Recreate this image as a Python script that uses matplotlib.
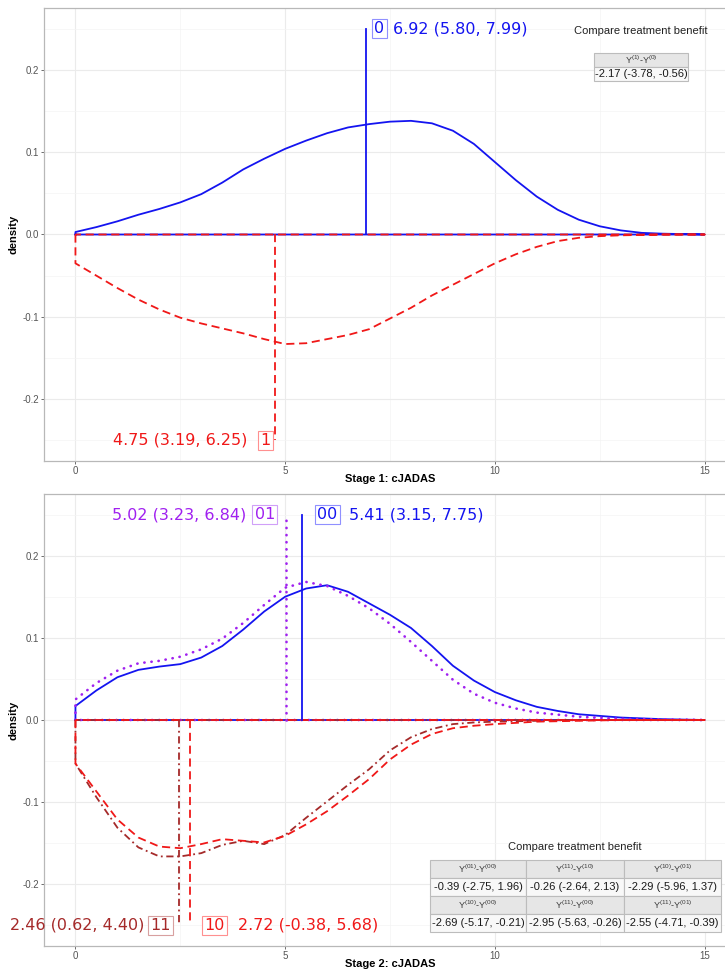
import matplotlib
matplotlib.use("Agg")
import matplotlib.pyplot as plt
import matplotlib.transforms as mtransforms
from matplotlib.patches import Rectangle
from matplotlib.ticker import MultipleLocator

plt.rcParams['font.family'] = ['Liberation Sans', 'DejaVu Sans']
plt.rcParams['mathtext.fontset'] = 'custom'
plt.rcParams['mathtext.rm'] = 'Liberation Sans'
plt.rcParams['mathtext.it'] = 'Liberation Sans'

# ---------------- data ----------------
# Stage 1
s1_x0 = [0, 0.5, 1, 1.5, 2, 2.5, 3, 3.5, 4, 4.5, 5, 5.5, 6, 6.5, 7, 7.5, 8, 8.5, 9, 9.5,
         10, 10.5, 11, 11.5, 12, 12.5, 13, 13.5, 14, 15]
s1_y0 = [0.003, 0.009, 0.016, 0.024, 0.031, 0.039, 0.049, 0.063, 0.079, 0.092, 0.104, 0.114,
         0.123, 0.130, 0.134, 0.137, 0.138, 0.135, 0.126, 0.110, 0.088, 0.066, 0.046, 0.030,
         0.018, 0.010, 0.005, 0.002, 0.001, 0.0]
s1_x1 = [0, 0.5, 1, 1.5, 2, 2.5, 3, 3.5, 4, 4.5, 5, 5.5, 6, 6.5, 7, 7.5, 8, 8.5, 9, 9.5,
         10, 10.5, 11, 11.5, 12, 12.5, 13, 14, 15]
s1_y1 = [-0.035, -0.050, -0.065, -0.079, -0.091, -0.101, -0.108, -0.114, -0.120, -0.127,
         -0.133, -0.132, -0.127, -0.122, -0.115, -0.102, -0.089, -0.074, -0.061, -0.048,
         -0.035, -0.024, -0.015, -0.008, -0.004, -0.002, -0.001, 0.0, 0.0]
s1_med = {"0": 6.92, "1": 4.75}
s1_lab = {"0": "6.92 (5.80, 7.99)", "1": "4.75 (3.19, 6.25)"}

# Stage 2
s2_x00 = [0, 0.5, 1, 1.5, 2, 2.5, 3, 3.5, 4, 4.5, 5, 5.5, 6, 6.5, 7, 7.5, 8, 8.5, 9, 9.5,
          10, 10.5, 11, 11.5, 12, 13, 14, 15]
s2_y00 = [0.017, 0.036, 0.052, 0.061, 0.065, 0.068, 0.076, 0.090, 0.110, 0.132, 0.150, 0.160,
          0.164, 0.156, 0.142, 0.128, 0.112, 0.090, 0.066, 0.048, 0.034, 0.024, 0.016, 0.011,
          0.007, 0.003, 0.001, 0.0]
s2_x01 = [0, 0.5, 1, 1.5, 2, 2.5, 3, 3.5, 4, 4.5, 5, 5.5, 6, 6.5, 7, 7.5, 8, 8.5, 9, 9.5,
          10, 10.5, 11, 12, 13, 14, 15]
s2_y01 = [0.025, 0.045, 0.060, 0.069, 0.072, 0.077, 0.086, 0.099, 0.118, 0.140, 0.161, 0.168,
          0.163, 0.151, 0.136, 0.117, 0.095, 0.072, 0.049, 0.032, 0.021, 0.014, 0.009, 0.004,
          0.0015, 0.0005, 0.0]
s2_x10 = [0, 0.5, 1, 1.5, 2, 2.5, 3, 3.5, 4, 4.5, 5, 5.5, 6, 6.5, 7, 7.5, 8, 8.5, 9, 9.5,
          10, 11, 12, 13, 15]
s2_y10 = [-0.053, -0.087, -0.121, -0.143, -0.154, -0.156, -0.151, -0.145, -0.147, -0.149,
          -0.141, -0.127, -0.111, -0.092, -0.072, -0.048, -0.030, -0.017, -0.010, -0.007,
          -0.005, -0.002, -0.001, 0.0, 0.0]
s2_x11 = [0, 0.5, 1, 1.5, 2, 2.5, 3, 3.5, 4, 4.5, 5, 5.5, 6, 6.5, 7, 7.5, 8, 8.5, 9, 9.5,
          10, 11, 12, 15]
s2_y11 = [-0.053, -0.094, -0.131, -0.155, -0.166, -0.166, -0.162, -0.152, -0.147, -0.151,
          -0.140, -0.119, -0.099, -0.079, -0.060, -0.037, -0.021, -0.011, -0.005, -0.003,
          -0.002, -0.001, 0.0, 0.0]
s2_med = {"00": 5.41, "01": 5.02, "10": 2.72, "11": 2.46}
s2_lab = {"00": "5.41 (3.15, 7.75)", "01": "5.02 (3.23, 6.84)",
          "10": "2.72 (-0.38, 5.68)", "11": "2.46 (0.62, 4.40)"}

tab1_head = ["Y$^{(1)}$-Y$^{(0)}$"]
tab1_vals = ["-2.17 (-3.78, -0.56)"]
tab2_head = [["Y$^{(01)}$-Y$^{(00)}$", "Y$^{(11)}$-Y$^{(10)}$", "Y$^{(10)}$-Y$^{(01)}$"],
             ["Y$^{(10)}$-Y$^{(00)}$", "Y$^{(11)}$-Y$^{(00)}$", "Y$^{(11)}$-Y$^{(01)}$"]]
tab2_vals = [["-0.39 (-2.75, 1.96)", "-0.26 (-2.64, 2.13)", "-2.29 (-5.96, 1.37)"],
             ["-2.69 (-5.17, -0.21)", "-2.95 (-5.63, -0.26)", "-2.55 (-4.71, -0.39)"]]

# ---------------- styles ----------------
BLUE = "#1414f0"
RED = "#f01818"
PURPLE = "#a020f0"
BROWN = "#a52a2a"
LW = 1.3
DASH = (0, (4.5, 2.6))
DOT = (0, (0.1, 2.6))
DASHDOT = (0, (4, 2, 1, 2))
FS = 11.5

W, H = 725, 971
fig = plt.figure(figsize=(W / 100, H / 100), dpi=100)


def fx(px):
    return px / W


def fy(py):
    return 1 - py / H


ax1 = fig.add_axes([fx(44), fy(461), fx(736) - fx(44), fy(8) - fy(461)])
ax2 = fig.add_axes([fx(44), fy(946), fx(736) - fx(44), fy(494) - fy(946)])


def style(ax, xlabel):
    ax.set_xlim(-0.75, 15.75)
    ax.set_ylim(-0.275, 0.275)
    ax.xaxis.set_minor_locator(MultipleLocator(2.5))
    ax.yaxis.set_minor_locator(MultipleLocator(0.05))
    ax.set_xticks([0, 5, 10, 15])
    ax.set_xticklabels(["0", "5", "10", "15"])
    ax.set_yticks([-0.2, -0.1, 0.0, 0.1, 0.2])
    ax.set_yticklabels(["-0.2", "-0.1", "0.0", "0.1", "0.2"])
    ax.grid(True, which="major", color="#ebebeb", lw=0.8, zorder=0)
    ax.grid(True, which="minor", color="#f4f4f4", lw=0.5, zorder=0)
    ax.set_axisbelow(True)
    ax.tick_params(which="major", length=2.5, width=0.6, color="#555555",
                   labelsize=7, labelcolor="#555555", pad=1.2)
    ax.tick_params(which="minor", length=0)
    for s in ax.spines.values():
        s.set_color("#b8b8b8")
        s.set_linewidth(0.9)
    ax.set_xlabel(xlabel, fontsize=8, fontweight="bold", labelpad=-1.5)
    ax.set_ylabel("density", fontsize=8, fontweight="bold", labelpad=3)


def density(ax, xs, ys, color, ls, z=3, lw=LW):
    px = [0] + list(xs) + [15, 0]
    py = [0] + list(ys) + [0, 0]
    ax.plot(px, py, color=color, ls=ls, lw=lw, zorder=z,
            solid_joinstyle="round", dash_capstyle="round" if ls == DOT else "butt")


def label(ax, xv, yv, box, text, color, side, dbox, dtext, boxedge):
    tb = mtransforms.offset_copy(ax.transData, fig=fig, x=dbox, y=0, units="dots")
    tt = mtransforms.offset_copy(ax.transData, fig=fig, x=dtext, y=0, units="dots")
    ha = "left" if side == "right" else "right"
    ax.text(xv, yv, box, transform=tb, ha=ha, va="center", fontsize=FS,
            color=color, family="DejaVu Sans", zorder=6,
            bbox=dict(boxstyle="square,pad=0.14", fc="white", ec=boxedge, lw=0.8))
    ax.text(xv, yv, text, transform=tt, ha=ha, va="center", fontsize=FS,
            color=color, family="DejaVu Sans", zorder=6)


# ---------------- Stage 1 ----------------
style(ax1, "Stage 1: cJADAS")
density(ax1, s1_x0, s1_y0, BLUE, "-", 3)
density(ax1, s1_x1, s1_y1, RED, DASH, 4)
ax1.plot([s1_med["0"], s1_med["0"]], [0, 0.25], color=BLUE, lw=LW, zorder=4)
ax1.plot([s1_med["1"], s1_med["1"]], [0, -0.25], color=RED, lw=LW, ls=DASH, zorder=4)
label(ax1, s1_med["0"], 0.25, "0", s1_lab["0"], BLUE, "right", 8.5, 27, "#9090ff")
label(ax1, s1_med["1"], -0.25, "1", s1_lab["1"], RED, "left", -4, -27, "#ff9090")

# ---------------- Stage 2 ----------------
style(ax2, "Stage 2: cJADAS")
density(ax2, s2_x00, s2_y00, BLUE, "-", 3)
density(ax2, s2_x01, s2_y01, PURPLE, DOT, 3, lw=1.9)
density(ax2, s2_x11, s2_y11, BROWN, DASHDOT, 4)
density(ax2, s2_x10, s2_y10, RED, DASH, 4)
ax2.plot([s2_med["00"]] * 2, [0, 0.25], color=BLUE, lw=LW, zorder=4)
ax2.plot([s2_med["01"]] * 2, [0, 0.25], color=PURPLE, lw=1.9, ls=DOT,
         dash_capstyle="round", zorder=4)
ax2.plot([s2_med["10"]] * 2, [0, -0.25], color=RED, lw=LW, ls=DASH, zorder=4)
ax2.plot([s2_med["11"]] * 2, [0, -0.25], color=BROWN, lw=LW, ls=DASHDOT, zorder=4)
label(ax2, s2_med["00"], 0.25, "00", s2_lab["00"], BLUE, "right", 15, 47, "#9090ff")
label(ax2, s2_med["01"], 0.25, "01", s2_lab["01"], PURPLE, "left", -11, -40, "#d0a0f8")
label(ax2, s2_med["10"], -0.25, "10", s2_lab["10"], RED, "right", 14.5, 48, "#ff9090")
label(ax2, s2_med["11"], -0.25, "11", s2_lab["11"], BROWN, "left", -7.5, -34, "#d8a0a0")


# ---------------- tables ----------------
def cell(x0, y0, x1, y1, txt, head):
    fc = "#e6e6e6" if head else "#f8f8f8"
    fig.add_artist(Rectangle((fx(x0), fy(y1)), fx(x1) - fx(x0), fy(y0) - fy(y1),
                             transform=fig.transFigure, fc=fc, ec="#bcbcbc", lw=0.8,
                             zorder=10))
    fig.text(fx((x0 + x1) / 2), fy((y0 + y1) / 2), txt, ha="center", va="center",
             fontsize=6.5 if head else 8, color="#3a3a3a" if head else "#1a1a1a",
             zorder=11)


fig.text(fx(641), fy(31), "Compare treatment benefit", ha="center", va="center",
         fontsize=8, color="#222222")
cell(594, 53, 688, 67, tab1_head[0], True)
cell(594, 67, 688, 81, tab1_vals[0], False)

fig.text(fx(575), fy(847), "Compare treatment benefit", ha="center", va="center",
         fontsize=8, color="#222222")
cols = [430, 526, 624, 721]
rows = [860, 878, 896, 914, 932]
for r in range(2):
    for c in range(3):
        cell(cols[c], rows[2 * r], cols[c + 1], rows[2 * r + 1], tab2_head[r][c], True)
        cell(cols[c], rows[2 * r + 1], cols[c + 1], rows[2 * r + 2], tab2_vals[r][c], False)

fig.savefig("out.png", dpi=100)
